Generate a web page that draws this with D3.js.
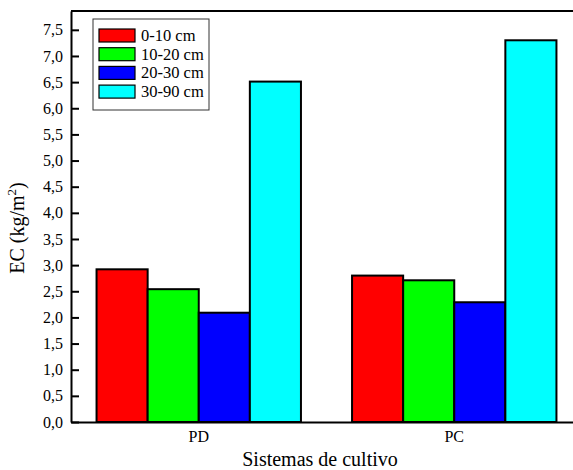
<!DOCTYPE html>
<html>
<head>
<meta charset="utf-8">
<script src="https://cdn.jsdelivr.net/npm/d3@7"></script>
<style>
  body { margin: 0; background: #fff; }
</style>
</head>
<body>
<div id="chart"></div>
<script>
// Data
const systems = ["PD", "PC"];
const depths = ["0-10 cm", "10-20 cm", "20-30 cm", "30-90 cm"];
const colors = ["#ff0000", "#00ff00", "#0000ff", "#00ffff"];
const valuesPD = [2.92, 2.54, 2.09, 6.51];
const valuesPC = [2.80, 2.71, 2.29, 7.30];
const yTicks = [0, 0.5, 1, 1.5, 2, 2.5, 3, 3.5, 4, 4.5, 5, 5.5, 6, 6.5, 7, 7.5];

const FONT = "Liberation Serif";

const data = systems.map((s, i) => ({
  system: s,
  values: (i === 0 ? valuesPD : valuesPC).map((v, j) => ({ depth: depths[j], value: v }))
}));

let margin = { top: 11, right: -9, bottom: 48, left: 71 },
  width = 573 - margin.left - margin.right,
  height = 470 - margin.top - margin.bottom;

let svg = d3
  .select("#chart")
  .append("svg")
  .attr("width", 573)
  .attr("height", 470)
  .attr("font-family", FONT)
  .append("g")
  .attr("transform", "translate(" + margin.left + "," + margin.top + ")");

let x0 = d3.scaleBand().domain(systems).range([0, width]).paddingInner(0.2).paddingOuter(0.1);
let x1 = d3.scaleBand().domain(depths).range([0, x0.bandwidth()]);
let y = d3.scaleLinear().domain([0, 7.86]).range([height, 0]);
const color = d3.scaleOrdinal().domain(depths).range(colors);

// bars
svg
  .append("g")
  .selectAll("g")
  .data(data)
  .join("g")
  .attr("transform", (d) => `translate(${x0(d.system)},0)`)
  .selectAll("rect")
  .data((d) => d.values)
  .join("rect")
  .attr("x", (d) => x1(d.depth))
  .attr("y", (d) => y(d.value))
  .attr("width", x1.bandwidth())
  .attr("height", (d) => height - y(d.value))
  .attr("fill", (d) => color(d.depth))
  .attr("stroke", "#000")
  .attr("stroke-width", 2);

// y axis (ticks inward)
const yAxis = svg
  .append("g")
  .call(
    d3.axisLeft(y)
      .tickValues(yTicks)
      .tickSizeInner(-8)
      .tickSizeOuter(0)
      .tickPadding(8)
      .tickFormat((d) => d3.format(".1f")(d).replace(".", ","))
  )
  .attr("font-family", FONT);
yAxis.select(".domain").attr("stroke-width", 2);
yAxis.selectAll(".tick line").attr("stroke-width", 2);
yAxis.selectAll("text").attr("font-size", 16).attr("font-family", FONT).attr("fill", "#000");

// x axis
const xAxis = svg
  .append("g")
  .attr("transform", "translate(0," + height + ")")
  .call(d3.axisBottom(x0).tickSize(0).tickPadding(9))
  .attr("font-family", FONT);
xAxis.select(".domain").attr("stroke-width", 2);
xAxis.selectAll("text").attr("font-size", 16).attr("font-family", FONT).attr("fill", "#000");

// frame top and right
svg.append("line")
  .attr("x1", 0).attr("x2", width)
  .attr("y1", 0).attr("y2", 0)
  .attr("stroke", "#000").attr("stroke-width", 2);
svg.append("line")
  .attr("x1", width).attr("x2", width)
  .attr("y1", 0).attr("y2", height)
  .attr("stroke", "#000").attr("stroke-width", 2);

// axis titles
svg.append("text")
  .attr("x", 249)
  .attr("y", height + 44)
  .attr("text-anchor", "middle")
  .attr("font-family", FONT)
  .attr("font-size", 20)
  .text("Sistemas de cultivo");

const yt = svg.append("text")
  .attr("transform", `translate(-47,${y(3.71)}) rotate(-90)`)
  .attr("text-anchor", "middle")
  .attr("font-family", FONT)
  .attr("font-size", 20);
yt.append("tspan").text("EC (kg/m");
yt.append("tspan").attr("font-size", 13).attr("dy", -8).text("2");
yt.append("tspan").attr("dy", 8).text(")");

// legend
const legend = svg.append("g").attr("transform", "translate(22,8)");
legend.append("rect")
  .attr("width", 116).attr("height", 91)
  .attr("fill", "#fff").attr("stroke", "#333").attr("stroke-width", 1);
const item = legend.selectAll(".legend-item")
  .data(depths)
  .join("g")
  .attr("class", "legend-item")
  .attr("transform", (d, i) => `translate(6,${10 + i * 18.7})`);
item.append("rect")
  .attr("width", 36).attr("height", 13)
  .attr("fill", (d) => color(d))
  .attr("stroke", "#000").attr("stroke-width", 1.2);
item.append("text")
  .attr("x", 42).attr("y", 12)
  .attr("font-family", FONT)
  .attr("font-size", 16.5)
  .text((d) => d);
</script>
</body>
</html>
